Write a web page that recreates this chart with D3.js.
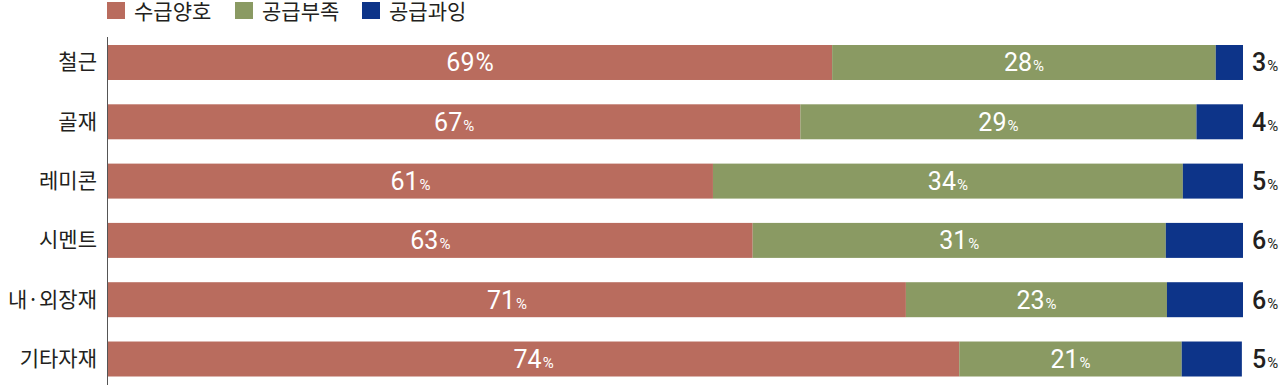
<!DOCTYPE html>
<html>
<head>
<meta charset="utf-8">
<script src="https://cdn.jsdelivr.net/npm/d3@7"></script>
<style>
  body { margin: 0; background: #fff; }
  svg { display: block; }
</style>
</head>
<body>
<div id="chart"></div>
<script>
// categories and series (bar lengths as drawn, share of the full bar)
let categories = ['철근', '골재', '레미콘', '시멘트', '내·외장재', '기타자재'];
let seriesNames = ['수급양호', '공급부족', '공급과잉'];
let goodLen = [63.8, 61.0, 53.3, 56.8, 70.3, 75.0];
let shortLen = [33.8, 34.9, 41.4, 36.4, 23.0, 19.6];
let overLen = [2.4, 4.1, 5.3, 6.8, 6.7, 5.3];
// printed percentages
let goodLabel = [69, 67, 61, 63, 71, 74];
let shortLabel = [28, 29, 34, 31, 23, 21];
let overLabel = [3, 4, 5, 6, 6, 5];

let colors = ['#b96c5e', '#8a9a63', '#0d3489'];

let width = 1280, height = 385,
    margin = {top: 45, right: 37, bottom: 8.5, left: 108};

let svg = d3.select('#chart').append('svg')
    .attr('width', width)
    .attr('height', height);

let x = d3.scaleLinear().domain([0, 100]).range([margin.left, width - margin.right]);
let y = d3.scaleBand().domain(categories)
    .range([margin.top, height - margin.bottom])
    .paddingInner(0.41).paddingOuter(0);

let rows = categories.map((c, i) => ({
    cat: c,
    vals: [goodLen[i], shortLen[i], overLen[i]],
    labels: [goodLabel[i], shortLabel[i], overLabel[i]]
}));

// legend
let legend = svg.append('g');
let legendX = [107, 235, 362];
seriesNames.forEach((name, i) => {
    legend.append('rect')
        .attr('x', legendX[i]).attr('y', 2)
        .attr('width', 18).attr('height', 17)
        .attr('fill', colors[i]);
    legend.append('text')
        .attr('x', legendX[i] + 27).attr('y', 19)
        .attr('font-family', '"Noto Sans CJK KR", sans-serif')
        .attr('font-size', 21)
        .attr('fill', '#231f20')
        .text(name);
});

// bars
let rowG = svg.selectAll('g.row').data(rows).enter().append('g')
    .attr('class', 'row')
    .attr('transform', d => `translate(0,${y(d.cat)})`);

rowG.each(function(d, r) {
    let g = d3.select(this);
    let acc = 0;
    d.vals.forEach((v, i) => {
        let x0 = x(acc), x1 = x(acc + v);
        acc += v;
        g.append('rect')
            .attr('x', x0).attr('y', 0)
            .attr('width', x1 - x0).attr('height', y.bandwidth())
            .attr('fill', colors[i]);
        let inside = i < 2;
        let t = g.append('text')
            .attr('x', inside ? (x0 + x1) / 2 : x(100) + 9)
            .attr('y', y.bandwidth() / 2 + 9)
            .attr('text-anchor', inside ? 'middle' : 'start')
            .attr('font-family', 'Roboto, sans-serif')
            .attr('fill', inside ? '#fff' : '#231f20');
        t.append('tspan')
            .attr('font-size', 25)
            .attr('font-weight', inside ? 400 : 500)
            .text(d.labels[i]);
        // the first label in the reference prints a full-size percent sign
        let big = r == 0 && i == 0;
        t.append('tspan')
            .attr('font-size', big ? 25 : 15)
            .attr('dx', 1)
            .text('%');
    });
});

// category labels
svg.selectAll('text.cat').data(categories).enter().append('text')
    .attr('class', 'cat')
    .attr('x', margin.left - 11)
    .attr('y', d => y(d) + y.bandwidth() / 2 + 7)
    .attr('text-anchor', 'end')
    .attr('font-family', '"Noto Sans CJK KR", sans-serif')
    .attr('font-size', 21)
    .attr('fill', '#231f20')
    .text(d => d);

// axis line
svg.append('line')
    .attr('x1', margin.left - 0.5).attr('x2', margin.left - 0.5)
    .attr('y1', 37).attr('y2', height)
    .attr('stroke', '#555').attr('stroke-width', 1);
</script>
</body>
</html>
